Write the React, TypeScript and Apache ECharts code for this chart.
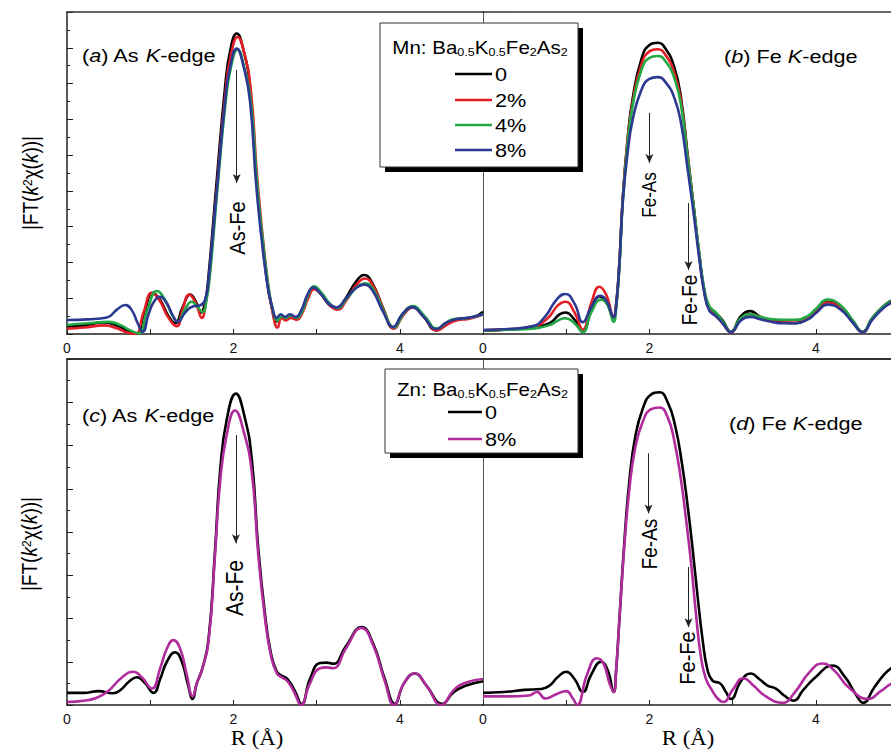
import React, { useEffect, useRef } from "react";
import * as echarts from "echarts";

type P = [number, number][];

// x-axis ticks/labels
const xTicks = [0, 1, 2, 3, 4, 5];
const xLabelValues = [0, 2, 4];

// Panel (a) As K-edge, Mn doping
const aBlack: P = [[0,0.2],[0.2,0.24],[0.45,0.32],[0.6,0.24],[0.72,0.1],[0.83,0.0],[0.93,0.6],[1.03,1.15],[1.12,0.95],[1.22,0.5],[1.3,0.3],[1.39,0.75],[1.48,1.1],[1.55,0.9],[1.61,0.6],[1.66,0.9],[1.7,1.6],[1.8,4.3],[1.9,6.9],[1.96,7.9],[2.04,8.4],[2.12,7.95],[2.2,6.9],[2.28,4.3],[2.4,1.55],[2.47,0.65],[2.52,0.35],[2.57,0.5],[2.62,0.42],[2.68,0.5],[2.75,0.45],[2.82,0.65],[2.89,1.05],[2.96,1.28],[3.05,1.12],[3.15,0.82],[3.24,0.72],[3.35,1.0],[3.47,1.45],[3.57,1.65],[3.67,1.42],[3.8,0.72],[3.92,0.17],[4.03,0.55],[4.15,0.76],[4.28,0.5],[4.44,0.1],[4.55,0.3],[4.68,0.4],[4.82,0.45],[4.92,0.5],[5.0,0.62]];
const aRed: P = [[0,0.15],[0.2,0.18],[0.45,0.24],[0.6,0.16],[0.72,0.04],[0.82,0.0],[0.92,0.6],[1.02,1.15],[1.11,0.95],[1.22,0.45],[1.32,0.22],[1.39,0.7],[1.47,1.1],[1.55,0.85],[1.62,0.45],[1.67,0.9],[1.71,1.6],[1.81,4.3],[1.91,6.85],[1.97,7.8],[2.05,8.3],[2.13,7.85],[2.21,6.8],[2.29,4.25],[2.41,1.5],[2.48,0.5],[2.53,0.18],[2.58,0.45],[2.63,0.38],[2.69,0.45],[2.76,0.4],[2.83,0.6],[2.9,1.0],[2.97,1.25],[3.06,1.1],[3.16,0.8],[3.25,0.68],[3.36,0.95],[3.48,1.38],[3.58,1.55],[3.68,1.35],[3.81,0.65],[3.93,0.15],[4.04,0.52],[4.16,0.74],[4.29,0.48],[4.45,0.1],[4.56,0.25],[4.68,0.38],[4.82,0.42],[4.92,0.48],[5.0,0.55]];
const aGreen: P = [[0,0.25],[0.25,0.3],[0.5,0.34],[0.65,0.24],[0.76,0.1],[0.86,0.02],[0.97,0.7],[1.08,1.2],[1.18,0.95],[1.26,0.55],[1.33,0.35],[1.42,0.7],[1.5,0.9],[1.57,0.75],[1.63,0.62],[1.68,1.0],[1.72,1.7],[1.81,4.1],[1.91,6.55],[1.97,7.45],[2.05,7.95],[2.13,7.45],[2.21,6.5],[2.29,4.05],[2.41,1.5],[2.48,0.6],[2.53,0.38],[2.58,0.5],[2.63,0.45],[2.69,0.52],[2.76,0.45],[2.83,0.65],[2.9,1.1],[2.97,1.33],[3.06,1.15],[3.16,0.85],[3.25,0.72],[3.36,0.98],[3.48,1.3],[3.58,1.42],[3.68,1.25],[3.81,0.62],[3.93,0.18],[4.04,0.55],[4.16,0.78],[4.29,0.52],[4.45,0.15],[4.56,0.32],[4.65,0.42],[4.8,0.44],[4.92,0.5],[5.0,0.55]];
const aBlue: P = [[0,0.39],[0.25,0.41],[0.48,0.46],[0.6,0.68],[0.7,0.81],[0.78,0.66],[0.85,0.3],[0.91,0.06],[0.98,0.55],[1.05,0.92],[1.12,1.04],[1.2,0.85],[1.28,0.48],[1.33,0.34],[1.42,0.6],[1.51,0.77],[1.6,0.8],[1.66,0.95],[1.7,1.5],[1.8,4.0],[1.9,6.5],[1.96,7.45],[2.04,7.98],[2.12,7.5],[2.2,6.5],[2.28,4.0],[2.4,1.5],[2.47,0.72],[2.52,0.45],[2.57,0.55],[2.62,0.48],[2.68,0.55],[2.75,0.48],[2.82,0.68],[2.89,1.1],[2.96,1.3],[3.05,1.12],[3.15,0.84],[3.24,0.74],[3.35,0.98],[3.47,1.28],[3.57,1.38],[3.67,1.22],[3.8,0.62],[3.92,0.2],[4.03,0.55],[4.15,0.75],[4.28,0.5],[4.44,0.14],[4.55,0.3],[4.68,0.42],[4.82,0.45],[4.92,0.5],[5.0,0.55]];

// Panel (b) Fe K-edge, Mn doping
const bBlack: P = [[0,0.1],[0.3,0.13],[0.6,0.18],[0.8,0.3],[0.92,0.55],[0.99,0.6],[1.1,0.4],[1.2,0.1],[1.3,0.65],[1.4,1.05],[1.48,0.9],[1.57,0.45],[1.6,0.8],[1.64,2.0],[1.68,3.8],[1.74,5.5],[1.8,6.6],[1.9,7.65],[2.0,8.08],[2.1,8.14],[2.2,7.95],[2.3,7.45],[2.38,6.6],[2.46,5.0],[2.53,3.6],[2.6,2.2],[2.66,1.2],[2.72,0.72],[2.8,0.58],[2.88,0.38],[2.98,0.06],[3.1,0.5],[3.22,0.64],[3.32,0.5],[3.45,0.38],[3.6,0.32],[3.75,0.3],[3.9,0.45],[4.0,0.65],[4.14,0.9],[4.3,0.75],[4.45,0.35],[4.56,0.06],[4.68,0.45],[4.8,0.75],[4.9,0.92],[5.0,1.02]];
const bRed: P = [[0,0.1],[0.3,0.13],[0.6,0.2],[0.78,0.45],[0.9,0.8],[0.99,0.9],[1.1,0.6],[1.2,0.12],[1.3,0.85],[1.4,1.32],[1.48,1.1],[1.57,0.5],[1.6,0.8],[1.64,2.0],[1.68,3.8],[1.74,5.45],[1.8,6.5],[1.9,7.5],[2.0,7.9],[2.1,7.96],[2.2,7.78],[2.3,7.3],[2.38,6.5],[2.46,4.95],[2.53,3.6],[2.6,2.2],[2.66,1.2],[2.72,0.7],[2.8,0.5],[2.88,0.3],[2.98,0.05],[3.1,0.42],[3.22,0.55],[3.32,0.48],[3.45,0.4],[3.6,0.38],[3.75,0.38],[3.9,0.45],[4.0,0.62],[4.14,0.88],[4.3,0.72],[4.45,0.32],[4.56,0.05],[4.68,0.42],[4.8,0.72],[4.9,0.9],[5.0,1.0]];
const bGreen: P = [[0,0.1],[0.3,0.12],[0.6,0.15],[0.8,0.25],[0.92,0.4],[0.99,0.44],[1.1,0.3],[1.2,0.05],[1.3,0.6],[1.42,0.96],[1.5,0.8],[1.57,0.34],[1.6,0.7],[1.64,1.9],[1.68,3.7],[1.74,5.35],[1.8,6.4],[1.9,7.35],[2.0,7.72],[2.1,7.77],[2.2,7.6],[2.3,7.15],[2.38,6.4],[2.46,4.9],[2.53,3.6],[2.6,2.25],[2.66,1.25],[2.72,0.78],[2.8,0.6],[2.88,0.35],[2.98,0.06],[3.1,0.45],[3.22,0.55],[3.32,0.48],[3.45,0.42],[3.6,0.4],[3.75,0.4],[3.9,0.5],[4.0,0.7],[4.14,0.96],[4.3,0.8],[4.45,0.36],[4.56,0.06],[4.68,0.45],[4.8,0.75],[4.9,0.9],[5.0,1.0]];
const bBlue: P = [[0,0.11],[0.3,0.14],[0.6,0.22],[0.75,0.5],[0.88,0.95],[0.99,1.12],[1.1,0.85],[1.2,0.33],[1.3,0.75],[1.41,1.07],[1.49,0.9],[1.57,0.48],[1.6,0.8],[1.64,2.0],[1.68,3.7],[1.74,5.1],[1.8,6.0],[1.9,6.8],[2.0,7.13],[2.1,7.18],[2.2,7.02],[2.3,6.6],[2.38,5.9],[2.46,4.6],[2.53,3.4],[2.6,2.1],[2.66,1.15],[2.72,0.65],[2.8,0.5],[2.88,0.3],[2.98,0.05],[3.1,0.38],[3.22,0.48],[3.32,0.42],[3.45,0.35],[3.6,0.3],[3.75,0.3],[3.9,0.4],[4.0,0.58],[4.14,0.82],[4.3,0.68],[4.45,0.3],[4.56,0.05],[4.68,0.4],[4.8,0.7],[4.9,0.86],[5.0,0.95]];

// Panel (c) As K-edge, Zn doping
const cBlack: P = [[0,0.28],[0.2,0.28],[0.38,0.32],[0.55,0.27],[0.65,0.36],[0.75,0.55],[0.84,0.64],[0.94,0.5],[1.04,0.28],[1.12,0.6],[1.2,1.0],[1.3,1.22],[1.38,1.0],[1.45,0.5],[1.51,0.14],[1.56,0.5],[1.62,0.8],[1.7,1.5],[1.78,3.6],[1.84,5.4],[1.92,6.6],[2.03,7.2],[2.13,6.7],[2.22,5.7],[2.3,3.6],[2.38,2.1],[2.45,1.2],[2.52,0.78],[2.58,0.68],[2.65,0.6],[2.74,0.32],[2.82,0.02],[2.92,0.6],[3.04,0.97],[3.12,0.98],[3.2,0.95],[3.35,1.35],[3.54,1.8],[3.68,1.42],[3.82,0.6],[3.94,0.03],[4.05,0.5],[4.18,0.73],[4.32,0.45],[4.51,0.03],[4.65,0.3],[4.8,0.45],[5.0,0.55]];
const cMag: P = [[0,0.07],[0.2,0.1],[0.35,0.16],[0.5,0.33],[0.65,0.62],[0.8,0.77],[0.9,0.64],[1.02,0.38],[1.12,0.85],[1.2,1.3],[1.28,1.5],[1.36,1.3],[1.44,0.7],[1.51,0.2],[1.56,0.5],[1.62,0.8],[1.7,1.45],[1.78,3.5],[1.84,5.15],[1.92,6.25],[2.02,6.81],[2.12,6.35],[2.22,5.4],[2.3,3.45],[2.38,2.0],[2.45,1.15],[2.52,0.74],[2.58,0.64],[2.65,0.55],[2.74,0.26],[2.81,0.0],[2.92,0.5],[3.04,0.85],[3.12,0.87],[3.2,0.85],[3.35,1.3],[3.54,1.78],[3.68,1.38],[3.82,0.55],[3.93,0.0],[4.05,0.5],[4.18,0.73],[4.32,0.45],[4.5,0.0],[4.65,0.35],[4.8,0.52],[5.0,0.6]];

// Panel (d) Fe K-edge, Zn doping
const dBlack: P = [[0,0.28],[0.25,0.3],[0.5,0.35],[0.7,0.37],[0.8,0.45],[0.9,0.65],[1.0,0.77],[1.1,0.6],[1.2,0.3],[1.3,0.7],[1.42,1.0],[1.5,0.8],[1.57,0.3],[1.6,0.8],[1.64,2.0],[1.7,3.8],[1.76,5.2],[1.83,6.2],[1.92,6.85],[2.02,7.18],[2.12,7.23],[2.22,7.0],[2.31,6.45],[2.39,5.6],[2.46,4.6],[2.52,3.6],[2.58,2.5],[2.64,1.5],[2.7,0.8],[2.76,0.56],[2.85,0.5],[2.92,0.3],[2.98,0.14],[3.1,0.55],[3.22,0.73],[3.32,0.6],[3.42,0.45],[3.52,0.38],[3.62,0.22],[3.73,0.1],[3.85,0.35],[4.0,0.65],[4.2,0.91],[4.35,0.65],[4.48,0.25],[4.57,0.05],[4.7,0.4],[4.82,0.7],[4.9,0.84],[5.0,0.95]];
const dMag: P = [[0,0.2],[0.3,0.2],[0.55,0.22],[0.65,0.3],[0.75,0.15],[0.88,0.25],[1.0,0.32],[1.08,0.15],[1.13,0.0],[1.25,0.7],[1.37,1.08],[1.45,0.95],[1.52,0.5],[1.57,0.3],[1.6,0.8],[1.64,2.0],[1.7,3.7],[1.76,5.0],[1.83,5.95],[1.92,6.55],[2.02,6.84],[2.12,6.88],[2.22,6.65],[2.3,6.1],[2.38,5.2],[2.44,4.3],[2.5,3.3],[2.56,2.1],[2.62,1.1],[2.68,0.6],[2.75,0.35],[2.82,0.15],[2.89,0.07],[3.0,0.35],[3.13,0.62],[3.25,0.45],[3.4,0.2],[3.6,0.05],[3.75,0.3],[3.92,0.75],[4.08,0.96],[4.22,0.8],[4.4,0.4],[4.63,0.14],[4.78,0.32],[4.9,0.48],[5.0,0.55]];

// Arrows (data coords): [x, yStart, yEnd]
const arrowsA = [[2.04, 7.38, 4.22]];
const arrowsB = [[2.0, 6.18, 4.78], [2.47, 3.66, 1.79]];
const arrowsC = [[2.03, 6.24, 3.74]];
const arrowsD = [[1.99, 5.82, 4.43], [2.47, 3.19, 1.8]];

const mnNames = ["0", "2%", "4%", "8%"];
const znNames = ["0", "8%"];
const yMaxTop = 9;
const yMaxBottom = 8;

const C = {
  black: "#000000",
  red: "#e31e24",
  green: "#22a845",
  blue: "#2b3990",
  mag: "#b02c9c",
};
const SANS = "Liberation Sans, Arial, sans-serif";
const SERIF = "Liberation Serif, Times New Roman, serif";

function buildOption() {
  const grids = [
    { left: 67, top: 12, width: 416, height: 322 },
    { left: 483, top: 12, width: 416, height: 322 },
    { left: 67, top: 359, width: 416, height: 346 },
    { left: 483, top: 359, width: 416, height: 346 },
  ];
  const xAxis: any[] = [];
  const yAxis: any[] = [];
  grids.forEach((_, i) => {
    xAxis.push({
      type: "value", gridIndex: i, min: xTicks[0], max: xTicks[xTicks.length - 1], interval: 1,
      axisLine: { lineStyle: { color: "#222", width: 1.5 } },
      axisTick: { inside: true, length: 5, lineStyle: { color: "#222", width: 1 } },
      axisLabel: {
        margin: 7, fontSize: 14, color: "#111", fontFamily: SANS,
        formatter: (v: number) => (xLabelValues.includes(v) ? String(v) : ""),
      },
      splitLine: { show: false },
    });
  });
  grids.forEach((_, i) => {
    xAxis.push({
      type: "value", gridIndex: i, position: "top", min: 0, max: 5,
      axisLine: { show: true, lineStyle: { color: "#333", width: i < 2 ? 1.5 : 2.2 } },
      axisTick: { show: false }, axisLabel: { show: false }, splitLine: { show: false },
    });
  });
  grids.forEach((_, i) => {
    const left = i % 2 === 0;
    const top = i < 2;
    yAxis.push({
      type: "value", gridIndex: i, min: 0, max: top ? yMaxTop : yMaxBottom, interval: 1,
      axisLine: { show: true, lineStyle: { color: left ? "#222" : "#555", width: left ? 1.5 : 1 } },
      axisTick: { show: left, inside: true, length: 6, lineStyle: { color: "#222" } },
      minorTick: { show: left, splitNumber: 2, length: 3, lineStyle: { color: "#222" } },
      axisLabel: { show: false },
      splitLine: { show: false },
      minorSplitLine: { show: false },
    });
  });

  const mkArrows = (arr: number[][]) => ({
    silent: true,
    symbol: ["none", "arrow"],
    symbolSize: [6, 9],
    lineStyle: { color: "#222", width: 1, type: "solid" },
    label: { show: false },
    emphasis: { disabled: true },
    data: arr.map(([x, y0, y1]) => [{ coord: [x, y0] }, { coord: [x, y1] }]),
  });

  const line = (name: string, data: P, color: string, idx: number, markLine?: any) => ({
    type: "line", name, data, xAxisIndex: idx, yAxisIndex: idx,
    showSymbol: false, symbol: "none", smooth: 0.5,
    lineStyle: { color, width: 2.6 }, itemStyle: { color },
    ...(markLine ? { markLine } : {}),
  });

  const series = [
    line(mnNames[0], aBlack, C.black, 0, mkArrows(arrowsA)),
    line(mnNames[1], aRed, C.red, 0),
    line(mnNames[2], aGreen, C.green, 0),
    line(mnNames[3], aBlue, C.blue, 0),
    line(mnNames[0], bBlack, C.black, 1, mkArrows(arrowsB)),
    line(mnNames[1], bRed, C.red, 1),
    line(mnNames[2], bGreen, C.green, 1),
    line(mnNames[3], bBlue, C.blue, 1),
    line(znNames[0], cBlack, C.black, 2, mkArrows(arrowsC)),
    line(znNames[1], cMag, C.mag, 2),
    line(znNames[0], dBlack, C.black, 3, mkArrows(arrowsD)),
    line(znNames[1], dMag, C.mag, 3),
  ];

  const SX = 1.14;
  const txt = (x: number, y: number, text: string, size: number, opts: any = {}) => ({
    type: "text", x, y, z: 102, scaleX: opts.rot ? 1 : SX, scaleY: opts.rot ? SX : 1,
    rotation: opts.rot ? Math.PI / 2 : 0,
    style: {
      text, fontSize: size, fontFamily: opts.family || SANS, fill: "#000",
      align: opts.align || "center", textAlign: opts.align || "center",
      verticalAlign: "middle", textVerticalAlign: "middle",
      rich: opts.rich,
    },
  });

  const panelRich = {
    n: { fontSize: 19, fontFamily: SANS, fill: "#000" },
    i: { fontSize: 19, fontFamily: SANS, fontStyle: "italic", fill: "#000" },
  };
  const panelLabel = (x: number, y: number, letter: string, el: string) =>
    txt(x, y, `{n|(}{i|${letter}}{n|) ${el} }{i|K}{n|-edge}`, 19, { align: "left", rich: panelRich });

  const yRich = {
    n: { fontSize: 19, fontFamily: SANS, fill: "#000" },
    i: { fontSize: 19, fontFamily: SANS, fontStyle: "italic", fill: "#000" },
    sup: { fontSize: 12, fontFamily: SANS, fill: "#000", verticalAlign: "top" },
  };
  const yLabelText = "{n||FT(}{i|k}{sup|2}{n|χ(}{i|k}{n|))|}";

  const titleRich = {
    n: { fontSize: 18, fontFamily: SANS, fill: "#000", lineHeight: 22, verticalAlign: "bottom" },
    s: { fontSize: 11, fontFamily: SANS, fill: "#000", lineHeight: 11, verticalAlign: "bottom" },
  };
  const legendBox = (
    x: number, y: number, w: number, h: number, prefix: string,
    names: string[], colors: string[], rows: number[], lx1: number, lx2: number, titleY: number
  ) => {
    const els: any[] = [
      { type: "rect", z: 100, shape: { x: x + 5, y: y + 5, width: w, height: h }, style: { fill: "#000" } },
      { type: "rect", z: 101, shape: { x, y, width: w, height: h }, style: { fill: "#fff", stroke: "#333", lineWidth: 1 } },
      txt(x + w / 2 + 1, titleY, `{n|${prefix}: Ba}{s|0.5}{n|K}{s|0.5}{n|Fe}{s|2}{n|As}{s|2}`, 18, { rich: titleRich }),
    ];
    names.forEach((nm, k) => {
      els.push({ type: "line", z: 102, shape: { x1: lx1, y1: rows[k], x2: lx2, y2: rows[k] }, style: { stroke: colors[k], lineWidth: 2.5 } });
      els.push(txt(lx2 + 3, rows[k], nm, 19, { align: "left" }));
    });
    return els;
  };

  const graphic: any[] = [
    panelLabel(82, 55, "a", "As"),
    panelLabel(724, 56, "b", "Fe"),
    panelLabel(82, 415, "c", "As"),
    panelLabel(729, 423, "d", "Fe"),
    txt(31, 183, yLabelText, 19, { rot: true, rich: yRich }),
    txt(30, 544, yLabelText, 19, { rot: true, rich: yRich }),
    txt(238, 228, "As-Fe", 20, { rot: true }),
    txt(650, 195, "Fe-As", 17, { rot: true }),
    txt(690, 300, "Fe-Fe", 19, { rot: true }),
    txt(235, 588, "As-Fe", 21, { rot: true }),
    txt(650, 544, "Fe-As", 19, { rot: true }),
    txt(688, 658, "Fe-Fe", 20, { rot: true }),
    txt(257, 738, "R (Å)", 20, { family: SERIF }),
    txt(688, 738, "R (Å)", 20, { family: SERIF }),
    ...legendBox(380, 23, 198, 144, "Mn", mnNames, [C.black, C.red, C.green, C.blue], [74, 100, 125, 150], 455, 492, 46),
    ...legendBox(385, 369, 193, 84, "Zn", znNames, [C.black, C.mag], [412, 439], 448, 482, 388),
  ];

  return {
    animation: false,
    backgroundColor: "#fff",
    textStyle: { fontFamily: SANS },
    grid: grids,
    xAxis,
    yAxis,
    series,
    graphic,
  };
}

export default function App() {
  const ref = useRef<HTMLDivElement>(null);
  useEffect(() => {
    if (!ref.current) return;
    const chart = echarts.init(ref.current, undefined, { renderer: "svg" });
    chart.setOption(buildOption() as any);
    return () => chart.dispose();
  }, []);
  return (
    <div style={{ position: "fixed", left: 0, top: 0, width: 891, height: 751, overflow: "hidden", background: "#fff" }}>
      <div ref={ref} style={{ width: 920, height: 751 }} />
    </div>
  );
}
